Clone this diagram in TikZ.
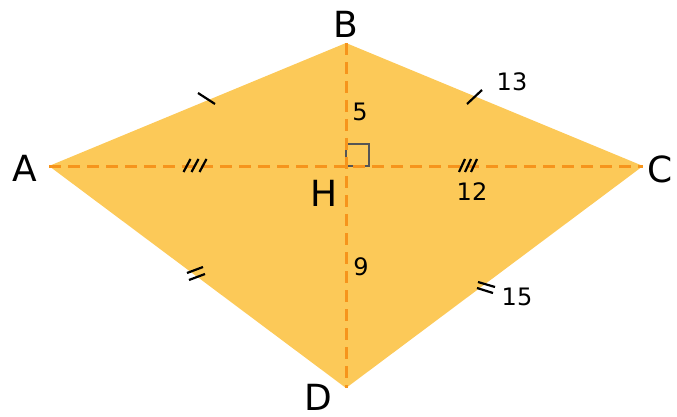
\documentclass[tikz,border=0pt]{standalone}
\usepackage{fontspec}
\setmainfont{DejaVu Sans}
\usetikzlibrary{calc}
\definecolor{kitefill}{RGB}{252,201,88}
\definecolor{dashorange}{RGB}{246,148,28}
\definecolor{markgray}{RGB}{85,85,85}
\begin{document}
\begin{tikzpicture}[x=1pt,y=-1pt,
  vlabel/.style={font=\fontsize{36}{36}\selectfont, inner sep=0pt},
  nlabel/.style={font=\fontsize{24}{24}\selectfont, inner sep=0pt},
  diag/.style={dashorange, line width=3pt, dash pattern=on 12pt off 7pt},
  tick/.style={black, line width=2.2pt}]
\useasboundingbox (0,0) rectangle (677,417);
\coordinate (A) at (49,166);
\coordinate (B) at (346,43);
\coordinate (C) at (643,166);
\coordinate (D) at (346,388);
\coordinate (H) at (346,166);
\fill[kitefill] (A) -- (B) -- (C) -- (D) -- cycle;
\draw[markgray, line width=1.8pt] (H) rectangle ($(H)+(23,-22)$);
\draw[diag] (A) -- (C);
\draw[diag] (B) -- (D);
% ticks
\draw[tick] (198,93) -- (215,104);
\draw[tick] (467,104) -- (482,90);
\foreach \x in {187,195,203} \draw[tick] (\x-3.5,172) -- (\x+3.5,159);
\foreach \x in {462,468,474} \draw[tick] (\x-3,172) -- (\x+3,159);
\draw[tick] (187,273) -- (203,267);
\draw[tick] (189,280) -- (205,274);
\draw[tick] (478,282) -- (495,287);
\draw[tick] (477,288) -- (493,293);
% labels
\node[vlabel] (lA) at (25,168) {A};
\node[vlabel] (lB) at (346,24) {B};
\node[vlabel] (lC) at (660,169) {C};
\node[vlabel] (lD) at (318,397) {D};
\node[vlabel] (lH) at (324,193) {H};
\node[nlabel] (n5) at (360,112) {5};
\node[nlabel] (n13) at (512,82) {13};
\node[nlabel] (n12) at (472,192) {12};
\node[nlabel] (n9) at (361,267) {9};
\node[nlabel] (n15) at (517,297) {15};
\end{tikzpicture}
\end{document}
